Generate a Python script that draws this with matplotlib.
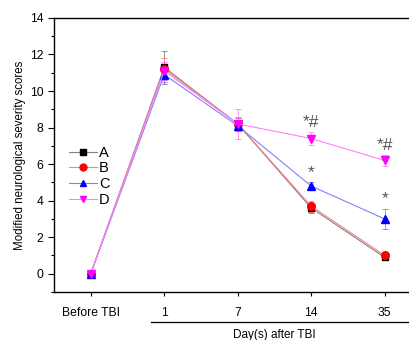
import numpy as np
import matplotlib
matplotlib.use('Agg')
import matplotlib.pyplot as plt
from matplotlib.lines import Line2D

plt.rcParams['font.family'] = ['Liberation Sans', 'DejaVu Sans']

# Data
labels = ['Before TBI', '1', '7', '14', '35']
groups = ['A', 'B', 'C', 'D']
a_vals = [0, 11.3, 8.2, 3.6, 0.9]
b_vals = [0, 11.2, 8.2, 3.7, 1.0]
c_vals = [0, 10.9, 8.1, 4.8, 3.0]
d_vals = [0, 11.1, 8.2, 7.4, 6.2]
a_err = [0, 0.9, 0.3, 0.25, 0.1]
b_err = [0, 0.6, 0.4, 0.3, 0.1]
c_err = [0, 0.4, 0.3, 0.2, 0.55]
d_err = [0, 0.5, 0.8, 0.35, 0.3]
# significance marks: (x index, y position, text)
marks = [(3, 7.85, '*#'), (4, 6.6, '*#'), (3, 5.1, '*'), (4, 3.7, '*')]

x = np.arange(len(labels))

fig = plt.figure(figsize=(4.1, 3.4), dpi=100)
ax = fig.add_axes([0.1317, 0.1412, 0.896, 0.806])

styles = [
    (a_vals, a_err, 'black', '#808080', 's', 5),
    (b_vals, b_err, 'red', '#ff8080', 'o', 5.5),
    (c_vals, c_err, 'blue', '#8080ff', '^', 6),
    (d_vals, d_err, 'magenta', '#ff80ff', 'v', 6),
]
handles = []
for (vals, err, mc, lc, mk, ms), name in zip(styles, groups):
    ax.errorbar(x, vals, yerr=err, color=lc, lw=0.8, capsize=2.5, capthick=0.6,
                elinewidth=0.6, marker=mk, ms=ms, mfc=mc, mec=mc)
    handles.append(Line2D([], [], color=lc, lw=0.8, marker=mk, ms=5, mfc=mc, mec=mc))

for xi, yi, t in marks:
    ax.text(xi, yi, t, ha='center', va='bottom', fontsize=12.5, color='#555555')

ax.set_xlim(-0.5, 4.5)
ax.set_ylim(-1, 14)
ax.set_xticks(x)
ax.set_xticklabels(labels, fontsize=8.7)
ax.set_yticks(range(0, 15, 2))
ax.set_yticks(range(-1, 15, 2), minor=True)
ax.tick_params(axis='y', labelsize=8.7, direction='out', length=4, width=0.8)
ax.tick_params(axis='y', which='minor', length=2.5, width=0.8)
ax.tick_params(axis='x', direction='out', length=3, width=0.8, pad=8)
ax.set_ylabel('Modified neurological severity scores', fontsize=8.3, labelpad=3)
for s in ['left', 'bottom', 'top']:
    ax.spines[s].set_linewidth(1.0)
ax.spines['right'].set_visible(False)

# group line and label under the day ticks
line = Line2D([0.82, 4.6], [-2.65, -2.65], color='black', lw=0.9, clip_on=False)
ax.add_line(line)
ax.text(2.5, -3.05, 'Day(s) after TBI', ha='center', va='top', fontsize=8.5)

ax.legend(handles, groups, loc='upper left', bbox_to_anchor=(0.025, 0.555), frameon=False,
          fontsize=10.5, handlelength=1.9, handletextpad=0.15, labelspacing=0.12,
          borderaxespad=0)

fig.savefig('out.png', dpi=100)
